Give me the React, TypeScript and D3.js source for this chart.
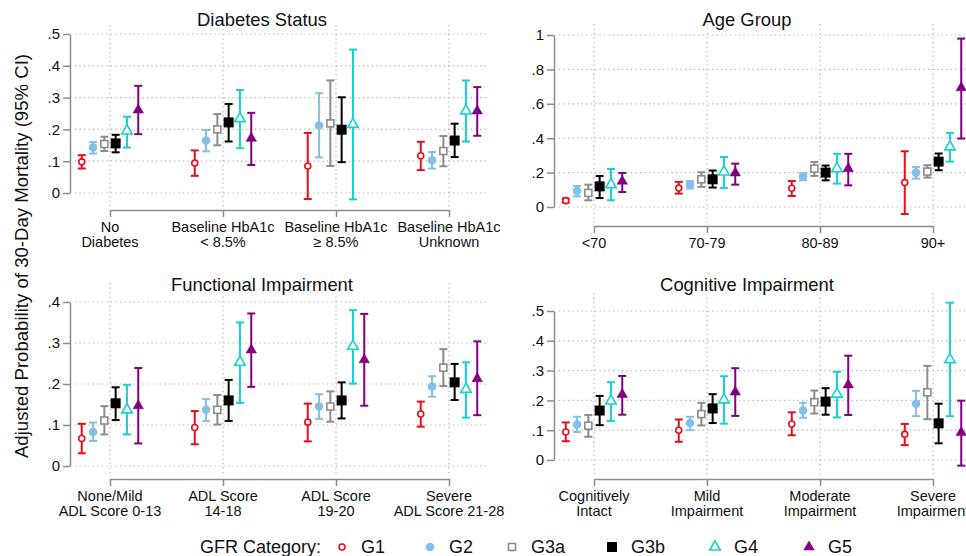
import React, { useRef, useEffect } from 'react';
import * as d3 from 'd3';

const FONT = '"Liberation Sans", Arial, sans-serif';

const groups = ['G1', 'G2', 'G3a', 'G3b', 'G4', 'G5'];
const groupColors = ['#e3101c', '#84bfe8', '#8c8c8c', '#000000', '#14d2d2', '#800080'];

// rows = GFR group (G1..G5), columns = category
const diabetesCats = [['No', 'Diabetes'], ['Baseline HbA1c', '< 8.5%'], ['Baseline HbA1c', '≥ 8.5%'], ['Baseline HbA1c', 'Unknown']];
const diabetesEst = [
  [0.098, 0.094, 0.085, 0.117],
  [0.143, 0.165, 0.212, 0.103],
  [0.154, 0.200, 0.219, 0.132],
  [0.156, 0.222, 0.199, 0.165],
  [0.195, 0.234, 0.216, 0.258],
  [0.261, 0.172, null, 0.258],
];
const diabetesLo = [
  [0.077, 0.054, -0.019, 0.072],
  [0.124, 0.131, 0.112, 0.077],
  [0.132, 0.150, 0.085, 0.084],
  [0.128, 0.162, 0.097, 0.113],
  [0.143, 0.141, -0.020, 0.162],
  [0.185, 0.088, null, 0.180],
];
const diabetesHi = [
  [0.119, 0.134, 0.189, 0.161],
  [0.160, 0.198, 0.314, 0.129],
  [0.177, 0.248, 0.354, 0.179],
  [0.183, 0.280, 0.301, 0.218],
  [0.240, 0.324, 0.451, 0.354],
  [0.337, 0.252, null, 0.333],
];
const diabetesTicks = [0, 0.1, 0.2, 0.3, 0.4, 0.5];

const ageCats = [['<70'], ['70-79'], ['80-89'], ['90+']];
const ageEst = [
  [0.037, 0.110, 0.109, 0.142],
  [0.093, 0.130, 0.177, 0.200],
  [0.082, 0.161, 0.223, 0.206],
  [0.120, 0.161, 0.200, 0.264],
  [0.130, 0.204, 0.223, 0.350],
  [0.150, 0.198, 0.223, 0.693],
];
const ageLo = [
  [0.025, 0.078, 0.064, -0.041],
  [0.062, 0.107, 0.155, 0.165],
  [0.039, 0.117, 0.181, 0.171],
  [0.052, 0.113, 0.155, 0.214],
  [0.039, 0.110, 0.136, 0.264],
  [0.087, 0.130, 0.126, 0.398],
];
const ageHi = [
  [0.049, 0.146, 0.151, 0.324],
  [0.122, 0.150, 0.196, 0.233],
  [0.130, 0.202, 0.262, 0.243],
  [0.180, 0.212, 0.241, 0.311],
  [0.221, 0.291, 0.309, 0.431],
  [0.198, 0.252, 0.309, 0.979],
];
const ageTicks = [0, 0.2, 0.4, 0.6, 0.8, 1];

const functionalCats = [['None/Mild', 'ADL Score 0-13'], ['ADL Score', '14-18'], ['ADL Score', '19-20'], ['Severe', 'ADL Score 21-28']];
const functionalEst = [
  [0.067, 0.094, 0.107, 0.127],
  [0.083, 0.137, 0.145, 0.194],
  [0.111, 0.137, 0.145, 0.240],
  [0.153, 0.160, 0.160, 0.204],
  [0.137, 0.253, 0.292, 0.187],
  [0.147, 0.283, 0.259, 0.213],
];
const functionalLo = [
  [0.031, 0.053, 0.060, 0.096],
  [0.061, 0.110, 0.115, 0.169],
  [0.077, 0.101, 0.108, 0.195],
  [0.112, 0.110, 0.116, 0.161],
  [0.077, 0.154, 0.201, 0.118],
  [0.055, 0.193, 0.147, 0.124],
];
const functionalHi = [
  [0.103, 0.134, 0.152, 0.157],
  [0.106, 0.163, 0.175, 0.219],
  [0.146, 0.173, 0.182, 0.285],
  [0.192, 0.210, 0.204, 0.249],
  [0.198, 0.350, 0.380, 0.253],
  [0.239, 0.372, 0.371, 0.304],
];
const functionalTicks = [0, 0.1, 0.2, 0.3, 0.4];

const cognitiveCats = [['Cognitively', 'Intact'], ['Mild', 'Impairment'], ['Moderate', 'Impairment'], ['Severe', 'Impairment']];
const cognitiveEst = [
  [0.094, 0.100, 0.121, 0.086],
  [0.119, 0.124, 0.166, 0.189],
  [0.115, 0.154, 0.194, 0.227],
  [0.166, 0.173, 0.196, 0.123],
  [0.198, 0.202, 0.221, 0.337],
  [0.220, 0.228, 0.252, 0.092],
];
const cognitiveLo = [
  [0.063, 0.061, 0.083, 0.050],
  [0.094, 0.100, 0.142, 0.147],
  [0.078, 0.116, 0.156, 0.137],
  [0.117, 0.124, 0.152, 0.056],
  [0.131, 0.122, 0.143, 0.147],
  [0.152, 0.148, 0.151, -0.019],
];
const cognitiveHi = [
  [0.126, 0.136, 0.160, 0.121],
  [0.145, 0.145, 0.192, 0.232],
  [0.151, 0.192, 0.233, 0.316],
  [0.215, 0.221, 0.241, 0.189],
  [0.261, 0.281, 0.296, 0.528],
  [0.282, 0.308, 0.350, 0.199],
];
const cognitiveTicks = [0, 0.1, 0.2, 0.3, 0.4, 0.5];

// panel layout (pixels)
const panels = [
  { title: 'Diabetes Status', cats: diabetesCats, est: diabetesEst, lo: diabetesLo, hi: diabetesHi, ticks: diabetesTicks,
    axisX: 70, plotTop: 25, yZero: 193, yTop: 34, xAxisY: 210, titleX: 262, titleY: 26 },
  { title: 'Age Group', cats: ageCats, est: ageEst, lo: ageLo, hi: ageHi, ticks: ageTicks,
    axisX: 554, plotTop: 24, yZero: 207, yTop: 35, xAxisY: 226, titleX: 747, titleY: 26 },
  { title: 'Functional Impairment', cats: functionalCats, est: functionalEst, lo: functionalLo, hi: functionalHi, ticks: functionalTicks,
    axisX: 70, plotTop: 283, yZero: 466, yTop: 302, xAxisY: 479, titleX: 262, titleY: 291 },
  { title: 'Cognitive Impairment', cats: cognitiveCats, est: cognitiveEst, lo: cognitiveLo, hi: cognitiveHi, ticks: cognitiveTicks,
    axisX: 554, plotTop: 293, yZero: 460, yTop: 311, xAxisY: 479, titleX: 747, titleY: 291 },
];

const tickFmt = (v) => (v === 0 ? '0' : d3.format('~g')(v).replace(/^0\./, '.'));

// marker for each group
const drawMarker = (sel, gi, x, y) => {
  const c = groupColors[gi];
  if (gi === 0) {
    sel.append('circle').attr('cx', x).attr('cy', y).attr('r', 3)
      .attr('fill', 'white').attr('stroke', c).attr('stroke-width', 1.6);
  } else if (gi === 1) {
    sel.append('circle').attr('cx', x).attr('cy', y).attr('r', 4.3).attr('fill', c);
  } else if (gi === 2) {
    sel.append('rect').attr('x', x - 3.5).attr('y', y - 3.5).attr('width', 7).attr('height', 7)
      .attr('fill', 'white').attr('stroke', c).attr('stroke-width', 1.6);
  } else if (gi === 3) {
    sel.append('rect').attr('x', x - 5).attr('y', y - 5).attr('width', 10).attr('height', 10).attr('fill', c);
  } else {
    const s = 10.5;
    const h = s * Math.sqrt(3) / 2;
    const pts = [[x, y - h * 2 / 3], [x + s / 2, y + h / 3], [x - s / 2, y + h / 3]];
    sel.append('path').attr('d', d3.line()(pts) + 'Z')
      .attr('fill', gi === 4 ? 'white' : c)
      .attr('stroke', c).attr('stroke-width', gi === 4 ? 1.6 : 0.5);
  }
};

const Chart = () => {
  const ref = useRef(null);

  useEffect(() => {
    const svg = d3.select(ref.current);
    svg.selectAll('*').remove();
    svg.append('rect').attr('width', 966).attr('height', 556).attr('fill', 'white');

    panels.forEach(p => {
      const g = svg.append('g');
      const y = d3.scaleLinear()
        .domain([0, d3.max(p.ticks)])
        .range([p.yZero, p.yTop]);
      const x = d3.scaleLinear().domain([1, 4]).range([p.axisX + 40, p.axisX + 379]);
      const catIdx = [1, 2, 3, 4];

      // grid
      g.selectAll('.hgrid').data(p.ticks).join('line')
        .attr('x1', p.axisX + 5).attr('x2', p.axisX + 417)
        .attr('y1', d => y(d)).attr('y2', d => y(d))
        .attr('stroke', '#b0b0b0').attr('stroke-width', 1.2).attr('stroke-dasharray', '1.2 3.3');
      g.selectAll('.vgrid').data(catIdx).join('line')
        .attr('x1', d => x(d)).attr('x2', d => x(d))
        .attr('y1', p.plotTop).attr('y2', p.xAxisY - 3)
        .attr('stroke', '#b0b0b0').attr('stroke-width', 1.2).attr('stroke-dasharray', '1.2 3.3');

      // y axis
      const yAxis = g.append('g')
        .attr('transform', `translate(${p.axisX},0)`)
        .call(d3.axisLeft(y).tickValues(p.ticks).tickFormat(tickFmt).tickSize(7).tickPadding(3).tickSizeOuter(0));
      yAxis.select('.domain').attr('stroke', '#8c8c8c').attr('stroke-width', 1.5);
      yAxis.selectAll('.tick line').attr('stroke', '#8c8c8c').attr('stroke-width', 1.5);
      yAxis.selectAll('.tick text').attr('font-family', FONT).attr('font-size', 15).attr('fill', '#111');

      // x axis
      const xAxis = g.append('g')
        .attr('transform', `translate(0,${p.xAxisY})`)
        .call(d3.axisBottom(x).tickValues(catIdx).tickFormat(() => '').tickSize(7).tickSizeOuter(0));
      xAxis.select('.domain').attr('stroke', '#8c8c8c').attr('stroke-width', 1.5);
      xAxis.selectAll('.tick line').attr('stroke', '#8c8c8c').attr('stroke-width', 1.5);

      p.cats.forEach((lines, ci) => {
        lines.forEach((ln, li) => {
          g.append('text')
            .attr('x', x(ci + 1)).attr('y', p.xAxisY + 22 + li * 15)
            .attr('text-anchor', 'middle')
            .attr('font-family', FONT).attr('font-size', 14.5).attr('fill', '#111')
            .text(ln);
        });
      });

      // error bars + markers
      groups.forEach((grp, gi) => {
        p.est[gi].forEach((v, ci) => {
          if (v == null) return;
          const cx = x(ci + 1 + (gi - 2.5) * 0.1);
          const lo = y(p.lo[gi][ci]);
          const hi = y(p.hi[gi][ci]);
          const c = groupColors[gi];
          g.append('line').attr('x1', cx).attr('x2', cx).attr('y1', lo).attr('y2', hi)
            .attr('stroke', c).attr('stroke-width', 2);
          [lo, hi].forEach(yy => {
            g.append('line').attr('x1', cx - 4).attr('x2', cx + 4).attr('y1', yy).attr('y2', yy)
              .attr('stroke', c).attr('stroke-width', 2);
          });
          drawMarker(g, gi, cx, y(v));
        });
      });

      // title
      g.append('text')
        .attr('x', p.titleX).attr('y', p.titleY)
        .attr('text-anchor', 'middle')
        .attr('font-family', FONT).attr('font-size', 18.4).attr('fill', '#111')
        .attr('stroke', 'white').attr('stroke-width', 6).attr('paint-order', 'stroke')
        .text(p.title);
    });

    // y-axis title
    svg.append('text')
      .attr('transform', 'translate(28,256) rotate(-90)')
      .attr('text-anchor', 'middle')
      .attr('font-family', FONT).attr('font-size', 18.6).attr('fill', '#111')
      .text('Adjusted Probability of 30-Day Mortality (95% CI)');

    // legend
    const legendMarkX = [342, 430, 512, 612, 715, 809];
    const legY = 553;
    svg.append('text')
      .attr('x', 200).attr('y', legY)
      .attr('font-family', FONT).attr('font-size', 18).attr('fill', '#111')
      .text('GFR Category:');
    groups.forEach((grp, gi) => {
      drawMarker(svg, gi, legendMarkX[gi], legY - 6);
      svg.append('text')
        .attr('x', legendMarkX[gi] + 19).attr('y', legY)
        .attr('font-family', FONT).attr('font-size', 18).attr('fill', '#111')
        .text(grp);
    });
  }, []);

  return <svg ref={ref} width={966} height={556} style={{ position: 'absolute', left: 0, top: 0 }} />;
};

export default function App() {
  return <Chart />;
}
